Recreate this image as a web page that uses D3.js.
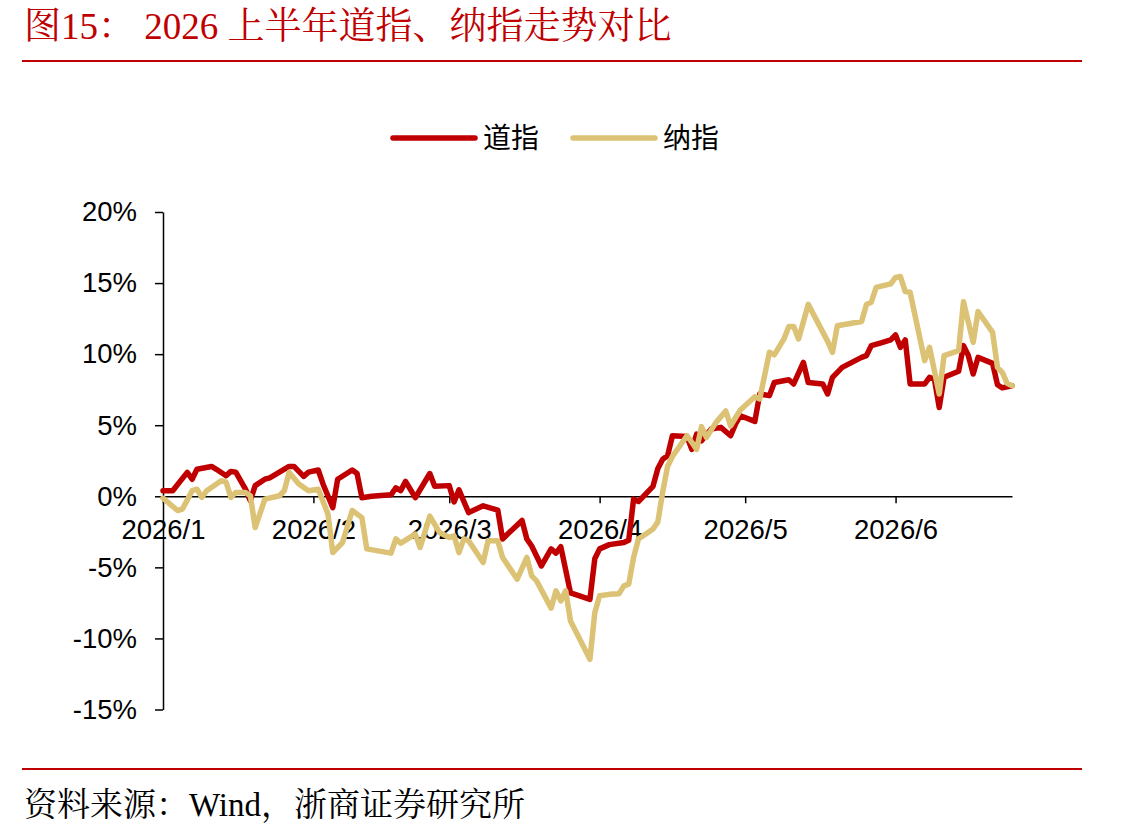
<!DOCTYPE html>
<html>
<head>
<meta charset="utf-8">
<script src="https://cdn.jsdelivr.net/npm/d3@7"></script>
<style>
  body { margin: 0; background: #fff; }
  svg { display: block; }
</style>
</head>
<body>
<div id="chart"></div>
<script>
// 道指 / 纳指 cumulative change (%) since start of 2026
const seriesNames = ["道指", "纳指"];

const daoDates = ["01-01","01-03","01-06","01-07","01-08","01-11","01-12","01-14","01-15","01-16",
  "01-18","01-19","01-20","01-22","01-23","01-25","01-27","01-28","01-30","01-31",
  "02-02","02-03","02-05","02-06","02-09","02-10","02-11","02-13","02-17","02-18",
  "02-19","02-20","02-22","02-25","02-26","03-01","03-02","03-03","03-05","03-08",
  "03-11","03-12","03-16","03-17","03-18","03-20","03-22","03-23","03-24","03-26",
  "03-30","03-31","04-01","04-03","04-06","04-07","04-08","04-09","04-12","04-13",
  "04-14","04-15","04-16","04-19","04-20","04-21","04-22","04-24","04-26","04-28",
  "04-29","04-30","05-03","05-04","05-06","05-07","05-10","05-11","05-13","05-14",
  "05-17","05-18","05-19","05-21","05-25","05-26","05-27","05-29","05-31","06-01",
  "06-02","06-03","06-04","06-07","06-08","06-09","06-10","06-11","06-14","06-15",
  "06-16","06-17","06-18","06-21","06-22","06-23","06-25"];
const daoValues = [0.39,0.39,1.68,1.2,1.9,2.1,1.9,1.45,1.75,1.7,
  0.5,-0.3,0.75,1.2,1.3,1.7,2.1,2.1,1.4,1.7,
  1.85,0.85,-0.8,1.2,1.85,1.6,-0.1,0,0.1,0.6,
  0.4,1.05,-0.1,1.6,0.7,0.75,-0.4,0.45,-1.15,-0.67,
  -0.97,-3.0,-1.7,-3.0,-3.5,-4.9,-3.7,-4.0,-3.55,-6.8,
  -7.25,-4.4,-3.7,-3.4,-3.25,-3.1,-0.2,-0.37,0.7,1.95,
  2.6,2.85,4.26,4.2,3.3,4.38,3.9,4.73,4.85,4.26,
  5.08,5.67,5.27,7.2,7.08,8.0,8.2,7.9,9.42,8.0,
  7.9,7.2,8.37,9.07,9.77,9.9,10.6,10.8,11.0,11.35,
  10.48,11.0,7.9,7.9,8.37,8.25,6.25,8.37,8.8,10.6,
  9.9,8.6,9.77,9.35,7.85,7.63,7.78];

const naDates = ["01-01","01-04","01-05","01-07","01-08","01-09","01-10","01-13","01-14","01-15",
  "01-16","01-18","01-19","01-20","01-22","01-25","01-26","01-27","01-29","01-31",
  "02-02","02-04","02-05","02-07","02-09","02-11","02-12","02-17","02-18","02-19",
  "02-22","02-23","02-25","02-27","03-01","03-02","03-03","03-04","03-05","03-08",
  "03-09","03-11","03-12","03-15","03-17","03-18","03-19","03-22","03-23","03-24",
  "03-25","03-26","03-30","03-31","04-01","04-03","04-05","04-06","04-07","04-08",
  "04-09","04-10","04-12","04-13","04-14","04-15","04-16","04-19","04-20","04-21",
  "04-22","04-23","04-25","04-27","04-28","04-30","05-03","05-04","05-06","05-07",
  "05-09","05-10","05-11","05-12","05-14","05-18","05-19","05-20","05-25","05-26",
  "05-27","05-28","05-31","06-01","06-02","06-03","06-04","06-07","06-08","06-10",
  "06-11","06-14","06-15","06-17","06-18","06-21","06-22","06-23","06-24","06-25"];
const naValues = [-0.13,-1.0,-0.9,0.39,0.5,-0.08,0.39,1.1,1.0,-0.08,
  0.27,0.27,0.04,-2.2,-0.2,0.04,0.39,1.68,0.86,0.39,
  0.5,-1.25,-3.96,-3.25,-1.0,-1.5,-3.7,-4.0,-3.0,-3.3,
  -2.66,-3.6,-1.4,-2.55,-2.9,-2.78,-3.96,-3.0,-3.13,-4.66,
  -3.13,-3.13,-4.3,-5.83,-4.3,-5.6,-5.95,-7.87,-6.65,-7.36,
  -6.65,-8.77,-11.47,-8.2,-7.0,-6.9,-6.85,-6.3,-6.18,-4.3,
  -3.0,-2.78,-2.3,-1.8,0.3,2.1,2.8,4.26,3.8,3.3,
  4.9,4.14,5.2,6.0,4.96,6.07,7.0,6.85,10.13,9.95,
  11.07,11.95,11.95,11.07,13.5,10.9,10.13,12.0,12.3,13.5,
  13.65,14.7,14.94,15.4,15.46,14.4,14.35,9.54,10.48,7.2,
  9.9,10.25,13.68,10.83,13.0,11.53,9.07,8.72,7.95,7.78];

const yTicks = [-15, -10, -5, 0, 5, 10, 15, 20];
const monthTicks = ["01-01","02-01","03-01","04-01","05-01","06-01"];
const colors = ["#C00000", "#DCC275"];

const parse = d3.utcParse("%Y-%m-%d");
const toDate = s => parse("2026-" + s);

const W = 1141, H = 838;
const svg = d3.select("#chart").append("svg")
  .attr("width", W).attr("height", H);

const serifFont = "'Liberation Serif', 'Noto Serif CJK SC', 'Noto Sans CJK SC', serif";

// title + rule
svg.append("text")
  .attr("x", 24).attr("y", 39)
  .attr("fill", "#C00000")
  .style("font-family", serifFont)
  .style("font-size", "37px")
  .text("图15：  2026 上半年道指、纳指走势对比");
svg.append("line")
  .attr("x1", 22).attr("x2", 1082).attr("y1", 61).attr("y2", 61)
  .attr("stroke", "#C00000").attr("stroke-width", 2);

// footer
svg.append("line")
  .attr("x1", 22).attr("x2", 1082).attr("y1", 769).attr("y2", 769)
  .attr("stroke", "#C00000").attr("stroke-width", 2);
svg.append("text")
  .attr("x", 24).attr("y", 816)
  .attr("fill", "#000")
  .style("font-family", serifFont)
  .style("font-size", "33px")
  .text("资料来源：Wind，浙商证券研究所");

// scales
let x = d3.scaleUtc()
  .domain([toDate("01-01"), toDate("06-25")])
  .range([163, 1012]);
let y = d3.scaleLinear()
  .domain([-15, 20])
  .range([709.5, 212]);

const axisFont = "'Liberation Sans', Arial, sans-serif";

// y axis
let yAxis = svg.append("g")
  .attr("transform", "translate(163,0)")
  .call(d3.axisLeft(y).tickValues(yTicks).tickFormat(d => d + "%").tickSize(8).tickSizeOuter(0).tickPadding(18));
yAxis.select(".domain").attr("stroke", "#000").attr("stroke-width", 1.5);
yAxis.selectAll(".tick line").attr("stroke", "#000").attr("stroke-width", 1.5);
yAxis.selectAll(".tick text")
  .style("font-family", axisFont).style("font-size", "27.5px").attr("fill", "#000");

// x axis at 0%
let xAxis = svg.append("g")
  .attr("transform", "translate(0," + y(0) + ")")
  .call(d3.axisBottom(x).tickValues(monthTicks.map(toDate))
    .tickFormat(d3.utcFormat("%Y/%-m")).tickSize(7).tickSizeOuter(0).tickPadding(16));
xAxis.select(".domain").attr("stroke", "#000").attr("stroke-width", 1.5);
xAxis.selectAll(".tick line").attr("stroke", "#000").attr("stroke-width", 1.5);
xAxis.selectAll(".tick text")
  .style("font-family", axisFont).style("font-size", "27.5px").attr("fill", "#000");

// lines
const line = d3.line().x(d => x(d[0])).y(d => y(d[1]));
const series = [
  daoDates.map((d, i) => [toDate(d), daoValues[i]]),
  naDates.map((d, i) => [toDate(d), naValues[i]])
];
series.forEach((s, i) => {
  svg.append("path")
    .datum(s)
    .attr("d", line)
    .attr("fill", "none")
    .attr("stroke", colors[i])
    .attr("stroke-width", 5.5)
    .attr("stroke-linejoin", "round")
    .attr("stroke-linecap", "round");
});

// legend
const legendX = [393, 573];
seriesNames.forEach((name, i) => {
  svg.append("line")
    .attr("x1", legendX[i]).attr("x2", legendX[i] + 82)
    .attr("y1", 138).attr("y2", 138)
    .attr("stroke", colors[i]).attr("stroke-width", 5.5)
    .attr("stroke-linecap", "round");
  svg.append("text")
    .attr("x", legendX[i] + 90).attr("y", 148)
    .style("font-family", "'Noto Sans CJK SC', sans-serif")
    .style("font-size", "28px")
    .attr("fill", "#000")
    .text(name);
});
</script>
</body>
</html>
